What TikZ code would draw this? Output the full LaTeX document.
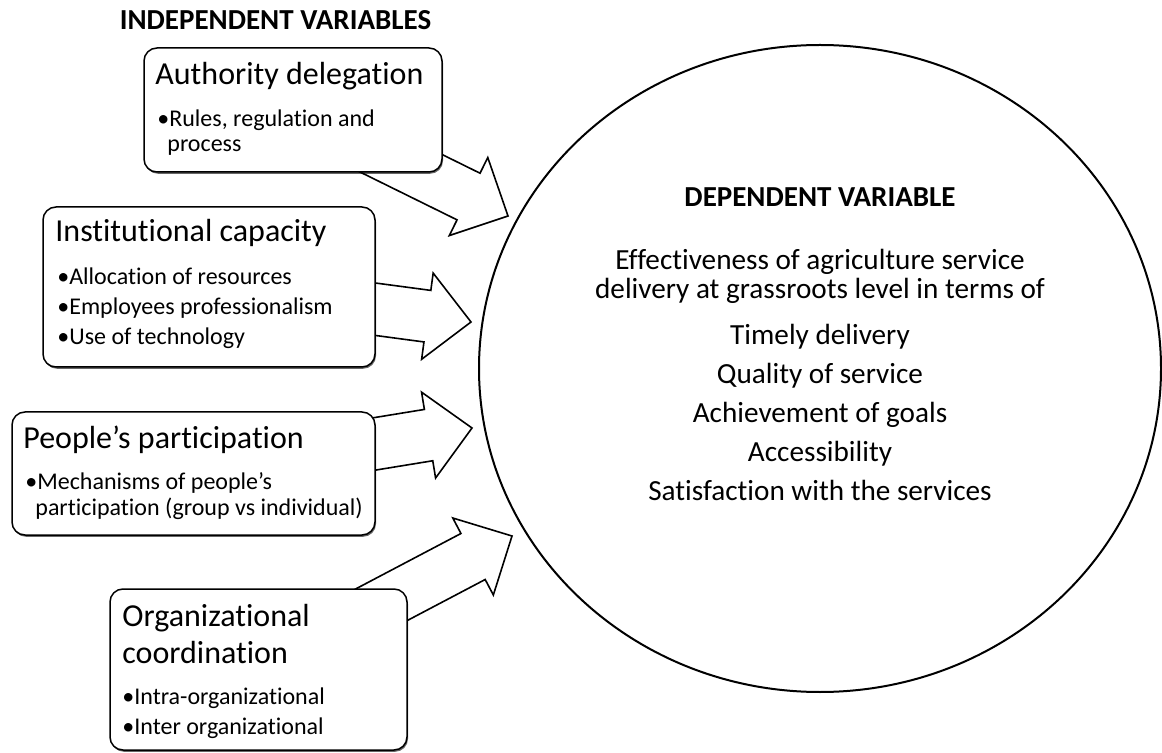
\documentclass[tikz,border=0pt]{standalone}
\usepackage{fontspec}
\setmainfont{Carlito}[Ligatures=NoCommon]
\usetikzlibrary{shapes,calc,shadows,backgrounds}

\tikzset{
  varbox/.style={draw, fill=white, rounded corners=6.5pt, line width=0.75pt, inner sep=0pt,
    drop shadow={shadow xshift=0.5pt, shadow yshift=-0.9pt, opacity=0.6, fill=black}},
  head/.style={inner sep=0pt, anchor=base west, font=\fontsize{16}{19}\selectfont},
  bul/.style={inner sep=0pt, anchor=base west, font=\fontsize{12}{14}\selectfont},
  ttl/.style={inner sep=0pt, anchor=base, font=\bfseries\fontsize{14.5}{17}\selectfont},
  dvtxt/.style={inner sep=0pt, anchor=base, font=\fontsize{14.6}{17}\selectfont},
  bigarrow/.style={draw, fill=white, line width=0.8pt, line join=miter}
}
% hollow block arrow from the centre of a box to a tip point
\newcommand\blockarrow[2]{%
  \coordinate (hb) at ($(#2)!22pt!(#1.center)$);
  \draw[bigarrow] ($(#1.center)!13pt!90:(#2)$) -- ($(hb)!13pt!90:(#2)$)
    -- ($(hb)!21.75pt!90:(#2)$) -- (#2) -- ($(hb)!21.75pt!-90:(#2)$)
    -- ($(hb)!13pt!-90:(#2)$) -- ($(#1.center)!13pt!-90:(#2)$) -- cycle;}

\begin{document}
\begin{tikzpicture}[x=0.5pt, y=-0.5pt]
\useasboundingbox (0,0) rectangle (1162,753);

\node[ttl] (indep) at (275.5,30) {INDEPENDENT VARIABLES};

\node[varbox, minimum width=149pt, minimum height=62pt] (auth) at (293,110) {};
\node[varbox, minimum width=166pt, minimum height=80pt] (inst) at (209,287) {};
\node[varbox, minimum width=181.5pt, minimum height=61.5pt] (peo) at (193.5,473.5) {};
\node[varbox, minimum width=148.5pt, minimum height=80.5pt] (org) at (258.5,669.5) {};

\node[draw, ellipse, line width=1pt, minimum width=341pt, minimum height=323.5pt, inner sep=0pt] (dv) at (820,368.5) {};

\coordinate (t1) at (508,216);
\coordinate (t2) at (471,322);
\coordinate (t3) at (472,428);
\coordinate (t4) at (512,536);

\begin{pgfonlayer}{background}
\blockarrow{auth}{t1}
\blockarrow{inst}{t2}
\blockarrow{peo}{t3}
\blockarrow{org}{t4}
\end{pgfonlayer}

\node[head] (authh) at (155,85) {Authority delegation};
\node[bul] (auth1) at (157,127) {•Rules, regulation and};
\node[bul] (auth2) at (167,152) {process};

\node[head] (insth) at (55,242) {Institutional capacity};
\foreach \txt [count=\i] in {Allocation of resources, Employees professionalism, Use of technology}
  \node[bul] (inst\i) at (57,255+30*\i) {•\txt};

\node[head] (peoh) at (23,449) {People’s participation};
\node[bul] (peo1) at (25,489) {•Mechanisms of people’s};
\node[bul] (peo2) at (35,516) {participation (group vs individual)};

\node[head] (orgh1) at (122,626) {Organizational};
\node[head] (orgh2) at (122,663) {coordination};
\node[bul] (org1) at (122,704) {•Intra-organizational};
\node[bul] (org2) at (122,734) {•Inter organizational};

\node[ttl] (dvh) at (820,207) {DEPENDENT VARIABLE};
\node[dvtxt] (dv1) at (820,270) {Effectiveness of agriculture service};
\node[dvtxt] (dv2) at (820,299) {delivery at grassroots level in terms of};
\foreach \txt [count=\i] in {Timely delivery, Quality of service, Achievement of goals, Accessibility, Satisfaction with the services}
  \node[dvtxt] (crit\i) at (820,306+39*\i) {\txt};
\end{tikzpicture}
\end{document}
